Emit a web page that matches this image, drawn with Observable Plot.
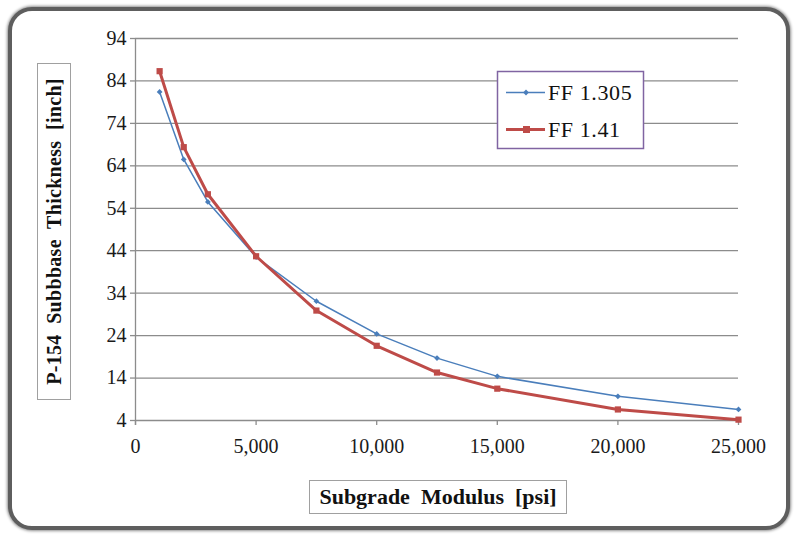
<!DOCTYPE html>
<html>
<head>
<meta charset="utf-8">
<script src="https://cdn.jsdelivr.net/npm/d3@7"></script>
<script src="https://cdn.jsdelivr.net/npm/@observablehq/plot@0.6"></script>
<style>
  html, body { margin: 0; padding: 0; background: #fff; }
  #wrap { position: relative; width: 797px; height: 534px; overflow: hidden; background: #fff; }
  #frame { position: absolute; left: 8px; top: 7px; width: 774px; height: 515px;
    border: 4px solid #5e5e5e; border-radius: 24px; box-shadow: 0 0 3px 1px rgba(0,0,0,0.45); background: #fff; }
  #plot { position: absolute; left: 0; top: 0; }
  .tbox { position: absolute; border: 1.5px solid #a0a0a0; background: #fff; box-sizing: border-box;
    font-family: "Liberation Serif", "Times New Roman", serif; font-weight: bold; color: #111;
    display: flex; align-items: center; justify-content: center; white-space: pre; }
  #ytitle { left: 37px; top: 63px; width: 34px; height: 337px; }
  #ytitle span { transform: rotate(-90deg); font-size: 20px; display: inline-block; letter-spacing: 0.3px; }
  #xtitle { left: 309px; top: 480px; width: 258px; height: 34px; font-size: 22px; }
  #legend { position: absolute; left: 0; top: 0; }
</style>
</head>
<body>
<div id="wrap">
  <div id="frame"></div>
  <div id="plot"></div>
  <div id="ytitle" class="tbox"><span>P-154  Subbbase  Thickness  [inch]</span></div>
  <div id="xtitle" class="tbox">Subgrade  Modulus  [psi]</div>
</div>
<script>
// ---- data ----
const modulus = [1000, 2000, 3000, 5000, 7500, 10000, 12500, 15000, 20000, 25000];
const ff1305 = [81.4, 65.5, 55.5, 42.5, 32.1, 24.4, 18.7, 14.4, 9.7, 6.6];
const ff141  = [86.3, 68.4, 57.3, 42.7, 29.9, 21.6, 15.3, 11.5, 6.6, 4.2];
const seriesNames = ["FF 1.305", "FF 1.41"];
const seriesColors = ["#4a7ebb", "#be4b48"];
const xTicks = [0, 5000, 10000, 15000, 20000, 25000];
const yTicks = [4, 14, 24, 34, 44, 54, 64, 74, 84, 94];

const rows1 = modulus.map((m, i) => ({x: m, y: ff1305[i]}));
const rows2 = modulus.map((m, i) => ({x: m, y: ff141[i]}));

const grid = "#8c8c8c";
const chart = Plot.plot({
  width: 797, height: 534,
  marginLeft: 135, marginRight: 59, marginTop: 38, marginBottom: 114,
  style: {background: "transparent", fontFamily: "'Liberation Serif', 'Times New Roman', serif", fontSize: "20px", color: "#1a1a1a"},
  x: {type: "linear", domain: [0, 25000]},
  y: {type: "linear", domain: [4, 94]},
  marks: [
    Plot.ruleY(yTicks, {stroke: grid, strokeWidth: 1.3}),
    Plot.ruleX([0], {y1: 94, y2: 4, stroke: grid, strokeWidth: 1.3, insetBottom: -5}),
    Plot.axisY(yTicks, {tickSize: 5, tickPadding: 4, label: null, stroke: grid, strokeWidth: 1.3, fill: "#1a1a1a"}),
    Plot.axisX(xTicks, {tickSize: 5, tickPadding: 13, label: null, stroke: grid, strokeWidth: 1.3, fill: "#1a1a1a", tickFormat: d3.format(",")}),
    Plot.line(rows1, {x: "x", y: "y", stroke: seriesColors[0], strokeWidth: 1.5}),
    Plot.dot(rows1, {x: "x", y: "y", symbol: "diamond2", r: 2.6, fill: seriesColors[0], stroke: null}),
    Plot.line(rows2, {x: "x", y: "y", stroke: seriesColors[1], strokeWidth: 3}),
    Plot.dot(rows2, {x: "x", y: "y", symbol: "square", r: 3.5, fill: seriesColors[1], stroke: null})
  ]
});
document.getElementById("plot").appendChild(chart);

// ---- legend ----
const lg = d3.select("#wrap").append("svg").attr("id", "legend").attr("width", 797).attr("height", 534);
lg.append("rect").attr("x", 497.5).attr("y", 71.5).attr("width", 146).attr("height", 77)
  .attr("fill", "#fff").attr("stroke", "#8064a2").attr("stroke-width", 1.5);
seriesNames.forEach((name, i) => {
  const cy = 92.5 + i * 37;
  lg.append("line").attr("x1", 506).attr("x2", 545).attr("y1", cy).attr("y2", cy)
    .attr("stroke", seriesColors[i]).attr("stroke-width", i === 0 ? 1.5 : 3);
  if (i === 0) {
    lg.append("path").attr("d", d3.symbol(d3.symbolDiamond2, Math.PI * 2.6 * 2.6)()).attr("transform", `translate(526,${cy})`).attr("fill", seriesColors[i]);
  } else {
    lg.append("rect").attr("x", 523).attr("y", cy - 3.5).attr("width", 7).attr("height", 7).attr("fill", seriesColors[i]);
  }
  lg.append("text").attr("x", 548).attr("y", cy + 7.5).text(name)
    .attr("font-family", "'Liberation Serif', 'Times New Roman', serif").attr("font-size", 22)
    .attr("letter-spacing", 0.6).attr("fill", "#111");
});
</script>
</body>
</html>
